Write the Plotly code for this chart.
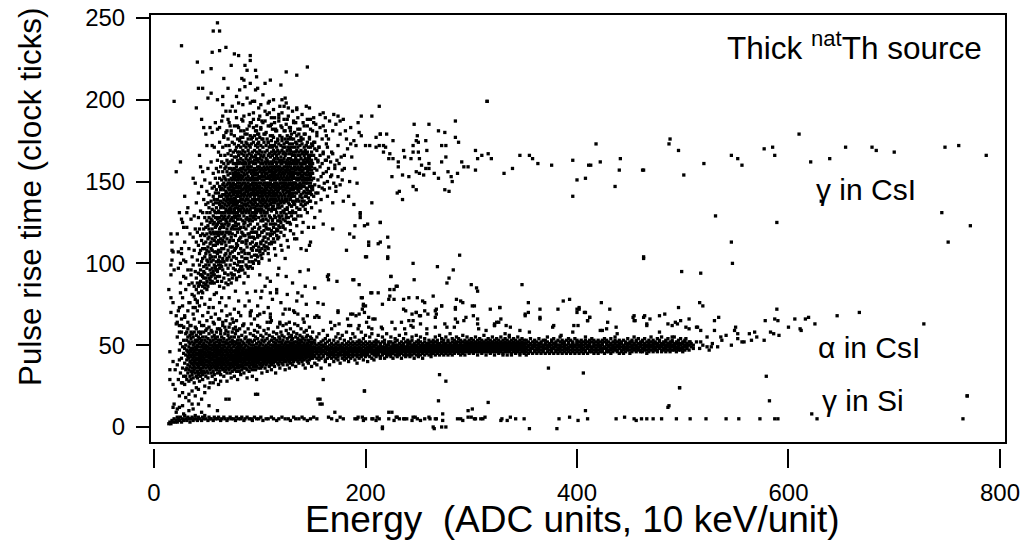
import plotly.graph_objects as go

# Energy (ADC units) vs pulse rise time (clock ticks).
# Column lists: [x, y1, y2, ...] = all points seen at ADC value x.

gamma_cols = [
 [22,64,118],[23,97],[24,73,131],[25,88],[26,106,62],[27,79,125],[28,92],[29,68,113,141],
 [30,84,101],[31,122],[32,71,96,134],[33,87,109],[34,76,118],[35,93,62,127],[36,81,104],
 [37,99,116,73],[38,86,129,108],[39,78,95,121],[40,91,113,84,137],[41,102,76,119,88],
 [42,94,111,128,82,143],[43,87,106,99,121,74],[44,96,117,89,132,108],[45,83,101,124,93,114,147],
 [46,92,109,86,131,118,103],[47,98,121,88,112,139,95],[48,85,104,117,94,128,151,109],
 [49,91,113,99,136,122,87,106],[50,97,118,89,108,131,144,102,126],[51,93,110,123,86,137,101,115,158],
 [52,99,128,91,116,107,142,121,134],[53,88,105,119,96,131,112,149,103,125],
 [54,94,113,127,101,138,118,92,109,162],[55,97,121,108,133,89,115,146,126,104],
 [56,102,119,95,129,111,141,124,136,155],[57,93,107,125,114,132,99,147,118,139,171],
 [58,98,116,104,128,137,111,152,122,143,131],[59,101,123,96,134,113,145,119,128,158,107],
 [60,95,112,127,106,139,118,149,131,163,124,182],[61,99,117,108,132,125,143,114,156,137,102,168],
 [62,104,121,113,136,128,147,97,152,119,141,174],[63,107,126,115,138,101,131,145,122,159,134,166],
 [64,98,112,129,118,141,135,151,124,109,162,146,187],[65,103,119,127,137,114,148,131,156,142,123,171],
 [66,109,122,134,116,145,128,139,153,101,161,149,177],[67,105,117,131,124,142,136,158,113,147,129,166,152],
 [68,111,126,138,119,133,151,144,127,159,106,172,141,193],[69,102,121,132,115,148,139,125,156,143,163,135,181],
 [70,108,128,119,137,146,131,154,141,123,167,149,161,176],[71,113,124,136,142,129,151,118,158,145,133,172,139,186],
 [72,106,119,131,147,138,126,155,143,162,134,149,169,114],[73,116,127,139,133,152,145,121,158,141,166,137,179,148],
 [74,110,122,135,128,144,157,139,151,163,131,147,174,118,196],[75,114,126,138,142,131,149,155,136,161,145,168,123,153],
 [76,108,121,133,146,129,152,140,158,137,165,148,173,144,184],[77,117,125,139,134,148,156,131,143,161,151,169,128,137],
 [78,112,123,136,144,129,153,141,159,147,165,138,171,155,189],[79,119,131,127,142,137,151,146,163,134,157,168,149,176],
 [80,114,124,138,133,147,141,155,129,161,152,172,144,166,198],[81,121,129,135,149,143,157,138,162,146,153,175,132,168],
 [82,116,127,139,144,133,151,158,147,164,141,171,154,181,122],[83,119,131,137,148,142,156,135,161,152,167,145,174,158],
 [84,113,126,134,145,139,153,149,163,131,158,169,142,177,187],[85,122,129,141,136,151,146,159,155,143,166,133,172,161],
 [86,117,125,138,147,132,154,142,162,149,168,157,136,179,208],[87,121,131,144,139,152,148,161,135,157,171,164,145,127],
 [88,114,128,136,146,141,155,151,166,133,159,173,147,182],[89,123,132,139,149,144,158,137,163,153,169,142,176,127],
 [90,118,126,135,147,142,156,151,161,131,167,145,172,159,191],[91,124,133,141,138,152,148,164,157,129,171,146,178,162],
 [92,119,129,137,145,151,143,159,134,166,155,173,148,186],[93,126,131,142,139,153,149,162,157,136,168,145,177,121],
 [94,116,128,136,147,144,156,152,165,139,161,174,149,183],[95,122,134,141,138,151,146,158,163,131,169,155,178,143,199],
 [96,127,133,145,142,154,149,166,137,161,172,157,129],[97,119,131,139,148,143,157,152,164,135,168,176,146,184],
 [98,124,136,142,151,147,159,133,163,155,171,144,179],[99,128,132,146,139,153,149,167,158,141,174,162,121,188],
 [100,122,135,143,138,152,156,147,164,133,169,159,177,145],[101,126,131,141,149,144,157,161,153,137,172,166,182],
 [102,119,133,139,146,151,142,158,163,135,168,155,176,129],[103,127,136,144,148,153,141,161,157,171,138,165,186],
 [104,123,132,145,139,156,151,149,166,159,174,143,131],[105,129,137,142,153,147,162,158,135,168,155,179,144,193],
 [106,124,134,146,141,152,157,164,149,172,138,161,127],[107,131,139,143,155,148,163,159,136,169,152,176,145],
 [108,126,135,147,141,153,158,166,149,162,133,174,184],[109,133,138,144,152,156,148,161,171,142,167,157,129],
 [110,128,136,149,143,154,159,165,139,172,151,178,146],[111,132,141,145,153,157,162,148,168,137,175,156,189],
 [112,127,139,147,143,155,161,151,166,134,171,158,182],[113,135,142,148,156,152,163,159,144,169,138,177],
 [114,129,137,146,153,149,158,164,141,172,155,167,186],[115,133,143,151,147,156,162,139,168,159,174,145],
 [116,131,138,146,154,149,161,157,166,142,171,152,181],[117,136,141,148,157,153,164,159,144,169,176,134],
 [118,129,139,147,152,158,145,162,167,155,173,141,187],[119,134,143,149,156,151,163,146,168,159,178,138],
 [120,131,137,146,154,149,161,157,165,142,172,153],[121,135,141,152,147,158,163,155,169,139,175,161,192],
 [122,132,144,149,156,151,162,145,167,158,171,138],[123,137,142,153,147,159,164,155,173,149,168,181],
 [124,133,145,151,157,148,162,166,141,171,155,176],[125,138,143,149,156,161,152,167,159,146,174,185],
 [126,134,147,153,158,144,163,169,151,157,178,139],[127,141,146,152,159,155,164,148,171,161,137,176],
 [128,136,144,151,157,162,149,167,155,173,142,183],[129,139,148,153,159,164,145,169,156,177,161],
 [130,135,143,151,146,158,163,154,171,167,141,179],[131,142,147,155,152,161,166,149,173,158,138],
 [132,137,145,153,158,149,163,168,156,176,161,186],[133,141,149,155,146,162,159,171,152,166,143],
 [134,138,147,152,157,164,149,168,161,174,155],[135,143,151,146,158,163,155,169,161,178,139],
 [136,139,148,154,159,152,166,162,171,145,182],[137,144,151,157,147,163,158,168,155,175],
 [138,141,149,155,161,152,166,172,158,146],[139,146,153,159,148,164,157,169,177,142],
 [140,138,151,156,161,147,167,159,173,154],[141,143,149,157,153,163,168,151,176,161],
 [142,147,155,151,162,158,166,144,171],[143,141,152,158,149,164,161,169,155,179],
 [144,146,154,159,151,167,162,172,143],[145,149,156,152,163,158,168,145,174],
 [146,143,151,157,162,154,166,171,159],[147,147,155,161,152,164,158,176],
 [148,144,153,159,149,166,162,171],[149,151,157,146,163,155,168,173],
 [150,147,161,172,155],[151,152,166],[152,158,148,174],[153,143,164],[154,157,169],[155,151,162],
 [156,147,171],[157,159,166],[158,153],[159,161,146],[160,155,168],[161,149],[162,163],[163,156],
 [164,171,150],[165,158],[166,146],[167,162],[168,154],[169,167],[170,149],[171,158],[172,144],
 [173,163],[174,153],[175,161],[176,148],[178,157],[180,166],
]

# lower part of the gamma cluster
gamma_low_x = [76,78,80,81,83,84,86,87,89,90,92,93,94,96,97,98,100,101,102,104,105,107,108,110,111,113,114,116,117,119,
               120,122,123,125,126,128,129,131,132,134,135,137,139,141,143,145,147,149,151,153,155,158,161,164,
               79,85,91,95,103,106,112,118,124,130,88,82,99,109,115,121,127,133,140,146,152,157]
gamma_low_y = [104,110,101,115,107,118,103,112,106,116,109,101,119,111,105,117,108,113,103,116,110,121,106,118,112,124,109,120,115,126,
               111,122,117,128,114,125,120,131,118,127,123,133,129,125,136,131,138,134,141,137,143,139,145,141,
               121,124,127,129,126,131,133,136,139,141,98,96,100,102,105,108,110,115,119,122,128,132]

gamma_fill_x = [62,63,64,65,66,66,67,68,68,69,70,70,71,71,72,72,73,73,74,74,75,75,76,76,77,77,78,78,79,79,
                80,80,81,81,82,82,83,83,84,84,85,85,86,86,87,87,88,88,89,89,90,90,91,91,92,92,93,93,94,94,
                95,95,96,96,97,97,98,98,99,99,100,100,101,101,102,102,103,103,104,104,105,105,106,106,107,107,
                108,108,109,109,110,110,111,111,112,112,113,113,114,114,115,115,116,116,117,117,118,118,119,119,
                120,120,121,122,122,123,124,124,125,126,126,127,128,129,130,130,131,132,133,134,135,136,137,138,
                139,140,141,142,143,144,145,146,147,148,149,150,58,59,60,61,57,56]
gamma_fill_y = [92,99,89,96,101,91,94,99,88,103,93,97,90,104,99,110,94,102,91,107,97,104,93,100,109,96,91,103,99,111,
                95,106,101,92,109,98,104,113,96,101,108,117,94,106,99,114,103,110,97,118,106,101,112,98,104,116,108,113,100,110,
                105,115,102,119,108,112,104,116,110,101,107,117,112,105,119,109,114,106,111,120,108,116,113,122,110,118,
                115,109,121,112,117,124,113,120,118,126,115,122,119,113,124,128,117,121,126,120,123,116,128,122,
                125,119,129,123,127,131,126,121,130,125,133,128,131,124,129,135,132,127,136,131,134,129,138,133,
                136,140,135,138,133,141,137,140,143,138,142,145,91,96,89,101,88,93]

# upper part of the gamma cluster
gamma_up_x = [90,92,94,96,98,100,101,103,105,106,108,109,111,112,114,115,117,118,120,121,123,124,126,127,129,130,132,133,135,136,
              138,139,141,142,144,145,147,148,150,151,153,154,156,157,159,160,162,163,165,85,87,80,76,72,68,83,99,113,128,143,155,149,146,152]
gamma_up_y = [184,176,188,181,173,190,183,176,187,180,174,192,185,178,189,182,175,191,184,177,188,181,174,190,183,176,187,180,173,189,
              182,175,186,179,172,184,177,188,181,174,185,178,171,183,176,167,181,173,165,181,174,183,178,184,180,188,179,172,170,168,163,159,164,170]

gamma_top_x = [62,66,70,73,77,79,82,85,88,91,94,97,99,102,104,107,110,113,115,118,121,123,126,129,131,134,137,140,142,145,
               148,151,154,157,160,163,166,169,172,176,179,182,186,189,193,196,84,93,108,119,135,72,65,58,55,
               165,168,171,174,177,180,183,185,178,172,167,163,176,181,187,190,192,184,179]
gamma_top_y = [183,178,188,181,193,184,177,190,179,186,192,181,195,187,179,191,184,194,181,189,183,196,188,181,193,186,179,191,184,188,
               182,186,180,191,184,178,187,181,185,179,188,176,183,175,186,178,197,199,198,196,195,193,190,186,180,
               176,168,160,172,165,158,170,150,151,147,153,163,187,181,165,158,149,141,138]

# sparse halo above and left of the gamma cluster
halo_x = [60,56,62,26,68,62,55,76,80,91,91,41,46,54,73,86,88,96,125,145,135,66,83,85,97,105,110,120,91,42,46,54,65,70,81,96,98,
          78,88,103,109,113,121,124,125,19,40,51,60,65,91,95,101,127,135,144,147,151,160,162,170,174,45,47,49,53,55,50,43,25,21,37,39,44,46,
          16,17,18,17,16,19,16,23,26,25,28,14,16,18,16,21,26,31,28,17]
halo_y = [247,242,242,233,232,230,229,228,227,227,224,223,217,219,221,221,218,218,217,220,215,213,213,212,214,210,212,209,210,207,207,204,202,207,206,206,207,
          202,201,203,199,200,200,201,198,199,195,201,200,197,198,199,197,195,194,196,195,189,192,189,191,190,188,183,179,183,172,172,166,162,156,152,149,159,156,
          118,108,107,102,99,96,93,107,109,100,102,84,79,76,70,68,127,131,122,113]

# tail of the gamma cluster towards higher energy
tail_x = [196,206,213,315,285,246,260,269,275,285,191,186,194,200,204,210,213,214,217,219,220,226,222,223,226,231,231,225,230,232,235,
          235,237,236,241,245,245,248,248,251,250,243,245,248,249,250,251,253,257,258,260,260,255,257,265,269,272,272,276,276,279,275,
          278,281,282,287,288,291,293,297,304,304,306,310,316,319,339,331,346,355,358,363,376,396,400,408,411,413,418,436,440,441,462,
          396,422,217,210,214]
tail_y = [190,190,196,199,187,185,185,181,180,177,172,173,180,172,172,171,172,179,172,171,179,175,164,167,164,162,159,153,143,144,154,
          139,165,169,153,147,168,145,156,155,168,164,172,175,178,174,164,160,175,169,161,158,154,158,155,152,162,172,165,172,144,145,
          156,153,150,155,174,162,159,159,169,157,164,166,167,164,158,155,166,166,164,161,160,163,151,152,160,160,173,147,157,164,157,
          141,162,168,177,179]

# points between the gamma cluster and the alpha band
mid_x = [146,165,165,188,200,214,221,224,230,182,185,203,214,222,195,202,189,169,169,160,151,148,144,139,135,147,124,117,107,102,
         110,116,136,152,164,173,144,155,160,174,186,198,196,205,216,223,227,136,132,124,152,110,91,98,111,119,125,141,167,175,184,
         194,203,216,203,289,268,283,245,246,279,277,300,305,306,348,463,221,224,229,223,227,222,212,206,197,189,194,201,214,190,199,
         221,212,203,189,195,195,206,236,241,249,256,264,272,286,285,292,295,303,306,306,318,327,322,326,351,354,365,365,377,382,387,
         393,400,402,408,412,410,401,423,431,429,424,454,454,464,466,197,199,207,209,188,236,244,248,251,241,243,266,266,277,285,284,
         322,31,34,36,38,40,41,43,44,46,47,48,49,50,51,52,53,54,55,56,57,58,59,60,61,62,63,64,65,66,67,68,69,70,71,72,73,74,75,76,77,
         78,79,80,82,84,86,38,42,45,47,50,52,55,57,60,62,64,67,70,33,36,39,29,27,25,30,35,44,58,53,49,46,41,37,32,28,24,26,23,21,74,78,
         81,85,88,90,92,95,98,101,105,108,112,104,96,89,83,93,100,110,116,120,126,131,125,118,138,143,128,135,140]
mid_y = [96,93,90,90,104,125,103,92,86,108,118,113,113,110,131,124,136,137,121,124,122,113,108,109,115,111,103,93,91,83,
         82,82,82,85,92,89,75,76,75,71,69,74,79,82,75,80,78,69,71,72,67,69,70,68,65,64,63,66,64,63,62,
         62,61,60,67,105,98,96,100,90,91,88,87,85,83,87,103,104,92,86,84,84,78,82,82,79,90,87,104,125,123,123,
         116,112,111,116,130,128,137,78,79,79,76,80,74,78,72,76,67,74,66,63,72,73,62,64,69,76,72,67,61,72,77,
         78,72,73,70,67,65,62,76,72,64,59,68,65,68,63,72,70,66,66,69,72,69,70,68,65,62,67,71,61,66,61,
         62,58,62,57,66,60,71,64,58,68,62,75,59,65,70,61,78,67,58,73,63,69,82,60,66,76,59,71,64,85,61,74,68,58,79,63,88,66,60,72,83,
         65,59,77,68,62,74,80,86,79,91,84,73,88,81,92,86,79,94,87,76,88,73,67,74,82,91,96,93,97,90,87,82,77,69,64,61,58,66,71,63,93,90,
         96,88,82,77,71,66,74,79,86,73,78,70,83,92,98,97,93,89,84,76,81,88,92,97,95,86,72,77,80]

# alpha-in-CsI band
alpha_cols = [
 [22,38,55],[23,29],[24,47,62],[25,33,51],[26,42,27,58],[27,36,49],[28,45,31,61,53],[29,39,48,26],[30,44,35,57,50],
 [31,41,29,53,47,36],[32,38,46,55,33,43,60],[33,42,35,49,28,52,45],[34,37,44,51,31,47,56,40],[35,43,34,48,39,54,29,46,58],
 [36,36,41,47,52,32,44,57,39],[37,45,38,50,34,42,55,30,48],[38,40,46,35,51,43,58,37,27],[39,44,33,49,39,53,41,47,61],
 [40,36,42,48,31,45,52,39,56,24],[41,41,34,47,53,38,44,50,30],[42,37,45,32,49,42,55,39,58],[43,43,36,51,46,33,40,54,28],
 [44,39,47,35,42,52,45,31,57],[45,44,38,49,34,41,53,47,62],[46,36,43,50,40,46,32,55,29],[47,42,48,37,45,51,34,39,58],
 [48,38,44,33,49,41,53,46,25],[49,45,40,36,50,43,31,55,48],[50,41,47,34,44,52,38,49,60],[51,37,43,49,40,46,33,54,30],
 [52,44,39,51,36,42,48,57,45],[53,40,46,35,43,50,38,53,27],[54,42,37,48,45,33,52,41,59],[55,39,44,50,36,47,42,55,31],
 [56,45,41,34,49,38,53,43,64],[57,37,43,48,40,46,32,51,56],[58,41,47,36,44,50,39,54,29],[59,43,38,49,35,45,52,41,58],
 [60,40,46,33,42,48,37,55,44],[61,44,39,50,36,47,41,53,26],[62,38,45,42,49,34,51,46,60],[63,42,36,47,40,53,44,32,57],
 [64,39,46,43,50,37,48,41,55],[65,45,40,35,48,42,52,38,62],[66,41,47,44,36,50,39,54,31],[67,38,43,49,41,46,34,52,57],
 [68,44,40,47,37,51,42,35,59],[69,42,48,39,45,33,53,46,28],[70,40,45,36,49,43,51,38,56],[71,43,38,47,41,54,35,49,61],
 [72,39,46,42,50,37,44,52,33],[73,45,41,48,36,43,55,39,30],[74,41,44,38,51,47,34,53,58],[75,37,43,49,40,46,52,42,64],
 [76,44,39,46,35,50,42,55,31],[77,40,47,43,38,52,45,36,57],[78,42,38,48,44,34,51,46,59],[79,39,45,41,49,37,53,43,29],
 [80,43,47,36,42,50,40,55,46],[81,41,38,45,51,44,34,48,60],[82,45,40,43,37,49,53,42,32],[83,38,44,47,41,35,50,46,56],
 [84,42,46,39,52,44,37,48,62],[85,44,41,48,36,45,51,40,33],[86,40,46,43,49,38,54,42,58],[87,43,39,45,41,50,36,47,55],
 [88,45,42,38,47,44,52,35,30],[89,41,47,43,39,49,45,53,60],[90,44,40,46,37,42,51,48,34],[91,42,45,39,48,44,36,53,57],
 [92,46,41,43,50,38,47,44,63],[93,40,44,48,42,35,52,46,31],[94,43,47,41,45,39,50,37,56],[95,45,42,48,40,44,53,38,59],
 [96,41,46,43,38,49,45,35,55],[97,44,40,47,42,51,46,37,29],[98,46,43,39,48,44,41,54,58],[99,42,45,49,40,47,36,52,44],
 [100,44,41,46,43,38,50,48,61],[101,47,42,45,39,51,44,36,56],[102,43,46,41,48,45,37,53,33],[103,45,40,47,43,50,42,55,38],
 [104,42,48,44,46,39,52,41,59],[105,46,43,40,49,45,36,53,47],[106,44,47,42,38,50,45,41,57],[107,41,45,48,43,46,39,54,34],
 [108,47,44,42,49,40,51,45,60],[109,43,46,45,41,48,37,52,56],[110,45,42,47,44,50,40,39,64],[111,46,43,41,48,45,53,38,35],
 [112,44,47,42,46,50,40,55,43],[113,42,45,49,43,47,39,52,58],[114,47,44,46,41,50,45,37,54],[115,43,48,45,42,46,51,40,33],
 [116,46,44,41,49,47,43,53,57],[117,45,42,48,44,39,50,46,61],[118,43,47,45,41,49,52,38,55],[119,48,44,46,42,50,40,54,36],
 [120,45,43,47,49,41,46,52,58],[121,44,48,42,46,51,39,47,56],[122,46,43,49,45,41,53,38,62],[123,47,44,42,50,46,48,40,55],
 [124,43,46,48,44,51,41,45,35],[125,45,49,43,47,40,52,46,59],[126,48,44,46,42,50,45,54,38],[127,44,47,45,49,41,43,52,57],
 [128,46,43,50,45,48,40,55,36],[129,45,48,42,47,44,51,39,60],[130,47,44,49,46,42,53,45,56],[131,43,46,48,45,50,41,54,38],
 [132,48,45,47,43,51,46,40,58],[133,46,49,44,47,42,52,45,63],[134,45,47,43,50,48,41,55,37],[135,48,44,46,49,45,52,42,57],
 [136,46,43,48,45,51,40,47,54],[137,44,47,49,46,42,50,53,39],[138,47,45,48,43,51,46,56,41],[139,45,48,44,50,47,42,53,60],
 [140,46,49,45,43,48,52,40,55],[141,48,44,47,50,45,42,54,38],[142,45,47,49,44,51,46,41,58],[143,47,46,43,49,45,53,48,36],
 [144,44,48,46,50,42,47,55,59],[145,46,49,45,48,43,51,40,56],[146,48,45,47,44,50,46,53,39],[147,45,47,49,43,48,52,41,61],
 [148,47,44,46,50,45,49,42,55],[149,46,48,44,47,51,43,54,37],[150,48,45,47,49,46,42,52,58],
 [152,46,49,44,48,51,43,53,39],[154,47,45,50,42,48,46,55,38],[156,48,44,46,51,43,49,41,57],[158,45,47,50,48,42,52,46,36],
 [160,46,49,44,47,53,43,50,59],[162,48,45,51,46,41,49,54,40],[164,47,44,49,45,52,48,42,56],[166,45,48,46,50,43,47,53,38],
 [168,49,46,44,48,51,42,45,60],[170,47,45,50,43,48,53,46,40],[172,46,49,47,44,51,42,55,48],[174,48,45,43,50,47,52,41,57],
 [176,46,48,50,44,49,45,54,39],[178,47,44,49,46,42,51,48,56],[180,45,48,46,50,43,53,47,41],[182,49,46,44,48,51,45,42,58],
 [184,47,50,45,43,48,52,46,40],[186,46,48,51,44,47,49,54,42],[188,48,45,47,50,43,46,52,57],[190,47,49,44,46,51,48,41,55],
 [192,45,48,50,47,43,52,46,39],[194,49,46,48,44,51,47,53,42],[196,47,45,50,48,46,43,52,58],[198,46,49,47,44,51,45,54,41],
 [200,48,46,50,47,43,52,45,56],[202,47,49,45,48,51,44,46,40],[204,46,48,50,47,43,52,49,55],[206,49,45,47,51,46,48,42,57],
 [208,47,50,46,44,49,52,45,41],[210,48,46,51,47,43,50,53,45],[212,46,49,47,45,52,48,44,56],[214,48,47,50,46,43,51,49,42],
 [216,47,45,49,48,52,46,44,55],[218,49,47,46,51,45,48,53,42],[220,47,50,48,45,49,46,43,57],[222,46,48,51,47,44,50,52,45],
 [224,48,46,49,47,52,45,43,55],[226,47,50,45,48,46,51,49,42],[228,49,47,48,46,44,52,50,54],[230,46,48,50,47,45,49,53,43],
 [232,48,47,45,51,49,46,44,56],[234,47,49,46,48,52,45,50,42],[236,48,46,50,47,44,51,49,54],[238,47,49,48,45,52,46,43,57],
 [240,49,47,46,50,48,44,51,53],[242,48,46,49,47,51,45,52,43],[244,47,50,48,46,44,49,53,55],[246,49,47,46,51,48,45,50,42],
 [248,48,46,50,47,49,52,44,56],[250,47,49,48,45,51,46,53,43],[252,48,47,50,46,49,44,52,55],[254,49,46,48,51,47,45,50,42],
 [256,47,50,49,46,48,52,44,54],[258,48,47,46,50,49,45,51,57],[260,49,48,47,51,46,50,44,53],[262,47,49,50,46,48,52,45,43],
 [264,48,46,49,51,47,50,53,45],[266,49,47,48,46,52,50,44,55],[268,48,50,47,49,45,51,46,53],[270,47,49,51,48,46,50,44,56],
 [272,49,48,47,50,52,46,45,54],[274,48,50,49,46,47,51,53,44],[276,47,49,48,51,46,50,45,55],[278,49,47,50,48,52,46,44,53],
 [280,48,50,47,49,51,45,46,57],[282,49,48,46,50,47,52,54,44],[284,48,47,50,49,51,46,45,53],[286,49,51,48,47,50,46,52,55],
 [288,48,50,49,46,47,52,45,54],[290,50,48,47,49,51,46,53,44],[292,49,47,50,48,52,46,45,56],[294,48,50,49,51,47,46,53,44],
 [296,49,48,50,47,52,46,51,55],[298,50,49,47,48,51,46,53,45],[300,48,50,49,52,47,46,51,54],[302,49,48,51,50,47,53,46,45],
 [304,50,49,48,47,52,46,51,55],[306,49,51,48,50,47,53,46,44],[308,48,50,49,52,47,51,46,54],[310,50,49,48,51,47,53,46,45],
 [312,49,48,50,52,47,51,46,56],[314,50,49,48,51,47,46,53,44],[316,49,51,50,48,52,47,46,54],[318,48,50,49,51,47,53,46,45],
 [320,50,49,48,52,47,51,46,55],[322,49,51,50,48,47,53,46,44],[324,50,48,49,52,47,51,46,54],[326,49,50,48,51,47,53,46,45],
 [328,48,50,49,52,47,51,46,55],[330,50,49,48,51,47,53,45,44],[332,49,51,50,48,52,47,46,54],[334,50,48,49,51,47,53,46,44],
 [336,49,50,48,52,47,51,46,55],[338,50,49,48,51,47,53,45,44],[340,49,51,50,48,52,47,46,54],[342,50,48,49,51,47,53,46,45],
 [344,49,50,48,52,47,51,46,55],[346,50,49,48,51,47,53,45,44],[348,49,51,50,48,52,47,46,54],[350,50,48,49,51,47,53,46,45],
 [352,49,46,51,48,53,44],[354,50,47,52,45,49],[356,48,51,46,50,54,47],[358,49,45,52,48,50],[360,47,50,53,46,49,51],
 [362,48,52,45,50,47],[364,50,46,49,54,48,51],[366,47,51,49,45,52],[368,49,53,47,50,46,48],[370,51,48,45,50,53],
 [372,46,49,52,48,50,55],[374,50,47,51,45,49],[376,48,52,46,50,53,47],[378,49,45,51,48,54],[380,47,50,52,46,49,51],
 [382,50,48,45,53,47],[384,49,52,46,50,48,55],[386,47,51,49,45,53],[388,50,48,52,46,49,51],[390,48,45,50,53,47],
 [392,51,49,46,52,48,54],[394,47,50,53,45,49],[396,49,52,48,46,51,50],[398,50,47,54,49,45],[400,48,51,46,52,50,53],
 [402,49,47,50,45,52],[404,51,48,53,46,49,50],[406,47,50,45,52,48],[408,49,53,47,51,46,55],[410,50,48,52,45,49],
 [412,47,51,49,53,46,50],[414,49,46,52,48,54],[416,50,47,51,45,49,53],[418,48,52,46,50,47],[420,51,49,53,47,45,50],
 [422,48,46,50,52,49],[424,50,53,47,51,48,46],[426,49,45,52,48,54],[428,47,50,48,53,51,46],[430,50,52,46,49,47],
 [432,48,51,54,47,50,45],[434,49,46,52,50,48],[436,51,48,47,53,49,55],[438,50,46,49,52,47],[440,48,51,45,50,53,49],
 [442,47,52,49,46,51],[444,50,48,53,47,49,45],[446,49,51,46,52,48],[448,48,50,54,47,51,49],[450,51,47,49,45,52],
 [452,49,52,48,50,46,53],[454,50,47,51,48,55],[456,48,53,46,50,49,52],[458,51,49,47,54,48],[460,49,46,52,50,47,51],
 [462,50,53,48,46,52],[464,48,51,49,54,47,50],[466,52,47,50,45,49],[468,49,53,51,48,46,50],[470,50,47,52,49,55],
 [472,48,51,46,53,50,49],[474,51,49,47,52,48],[476,49,54,50,46,51,47],[478,50,48,52,49,53],[480,47,51,49,55,50,46],
 [482,52,48,50,47,51],[484,49,53,46,50,48,52],[486,51,47,49,54,50],[488,48,52,50,46,51,49],[490,50,47,53,49,52],
 [492,49,51,48,55,47,50],[494,52,49,46,51,48],[496,50,53,48,47,51,49],[498,48,51,50,54,47],[500,51,49,52,48,46],
 [502,49,52,47,50,53],[504,50,48,51,49],[506,52,47,50],[508,49,51],[510,50,48],
]

# points around the alpha band (above, below and beyond its end)
edge_x = [513,516,519,523,525,528,533,537,541,546,552,558,563,570,577,583,591,600,612,625,
          154,156,174,183,191,194,198,200,171,186,193,201,206,215,225,234,228,237,245,238,248,252,256,259,267,272,254,245,252,258,
          266,267,275,285,287,293,290,301,302,307,314,322,324,327,328,333,336,
          351,354,365,378,397,400,402,407,412,410,453,455,463,466,486,493,498,506,514,376,385,396,337,332,346,355,422,428,437,438,478,
          490,503,507,517,72,80,91,100,110,122,133,145,85,98,107,119,128,136,142,77,68,62,
          516,519,496,534,530,589,587,590,578,606,611,616,619,646,667,728,586,568,565,556,552,549,550,536,523,527,530,517,513,506,503,
          495,490,483,478,469,
          20,24,27,30,33,36,39,42,45,36,27,22,48,52,42,33,18,68,56,63,98,15,18,15,18,15,20,24,27,30,
          96,71,160,199,157,159,216,155,157,199,270,276,269,316,301,297,273,225,171,264,272,276,373,406,408,222,497,486,579,497,487,622,769,582]
edge_y = [52,48,50,55,47,51,49,53,56,50,54,52,57,55,53,58,56,61,59,63,
          68,67,70,66,68,69,75,74,62,62,60,64,60,61,64,64,60,60,61,71,70,68,71,69,72,74,77,65,63,60,
          61,69,63,73,64,65,77,74,68,60,59,63,64,73,66,62,56,
          68,70,66,62,62,70,72,70,67,65,67,65,67,62,63,64,65,66,61,53,56,58,61,57,59,58,59,60,61,57,58,
          55,54,52,52,69,70,68,69,67,69,70,68,63,62,64,63,64,62,64,61,65,66,
          76,74,73,67,65,72,66,65,65,66,60,66,67,68,70,63,57,58,53,52,57,59,61,55,49,49,59,59,61,60,61,
          63,62,69,68,66,
          23,19,21,18,20,22,19,23,17,14,13,11,21,24,14,16,12,17,27,28,20,29,26,35,40,46,35,41,27,31,
          20,17,29,22,17,14,0,17,14,22,32,28,16,15,11,10,8,9,9,0,0,0,36,33,10,9,24,12,31,24,13,8,19,16]

# gamma-in-Si line
si_x = [14,15,16,17,18,19,20,21,22,22,23,24,25,26,27,28,29,30,31,32,33,34,35,36,37,38,39,40,41,42,43,45,46,47,48,49,51,52,53,54,
        56,57,58,60,61,63,64,66,67,69,70,72,73,75,77,78,80,82,83,85,86,88,90,92,93,95,97,99,101,103,106,108,111,113,116,118,121,
        124,127,129,132,134,137,140,142,145,148,151,21,24,28,33,19,37,45,52,60,
        154,165,168,173,176,179,190,193,198,200,206,211,213,227,230,236,239,245,249,252,256,260,267,287,292,297,304,309,313,329,334,
        192,197,207,210,222,229,232,237,244,247,261,266,273,290,300,303,311,328,337,342,350,383,393,401,410,437,445,454,456,461,
        216,265,355,381,466,472,480,507,541,573,587,494,522,553,590,627,769,765]
si_y = [2,3,2,4,3,5,3,4,6,3,5,4,6,3,5,4,7,5,4,6,5,3,5,6,4,5,7,5,4,6,5,4,6,5,7,5,4,6,5,5,
        4,6,5,5,6,4,5,6,5,4,5,6,5,5,4,6,5,5,6,4,5,6,5,5,4,6,5,5,6,4,5,5,6,5,4,5,6,
        5,5,4,6,5,5,6,5,4,5,6,9,12,8,10,14,11,9,13,10,
        5,6,5,4,6,5,5,6,4,5,5,6,5,4,6,5,5,6,5,4,5,6,5,5,4,6,5,5,6,5,4,
        5,6,5,4,5,6,5,5,4,6,5,5,4,5,6,5,5,4,6,5,5,5,6,4,5,5,6,5,4,5,
        -1,-1,-1,-1,5,5,5,5,5,5,5,5,5,5,5,5,19,5]

# right-hand sparse points (gamma in CsI at high energy)
far_x = [315,463,488,487,496,501,520,546,552,556,577,585,587,610,621,639,654,679,683,700,748,761,787,
         531,589,546,547,499,517,631,745,772,751,463]
far_y = [199,157,176,173,169,154,161,166,164,160,170,171,166,179,162,164,171,171,169,168,171,172,166,
         129,125,113,100,95,94,138,131,123,113,104]

x_ticks = [0, 200, 400, 600, 800]
y_ticks = [0, 50, 100, 150, 200, 250]


def flatten(cols):
    xs, ys = [], []
    for c in cols:
        for v in c[1:]:
            xs.append(c[0])
            ys.append(v)
    return xs, ys


gx, gy = flatten(gamma_cols)
ax, ay = flatten(alpha_cols)
all_x = gx + ax + gamma_low_x + gamma_fill_x + gamma_up_x + gamma_top_x + halo_x + tail_x + mid_x + edge_x + si_x + far_x
all_y = gy + ay + gamma_low_y + gamma_fill_y + gamma_up_y + gamma_top_y + halo_y + tail_y + mid_y + edge_y + si_y + far_y

FONT = "Liberation Sans, Arial, Helvetica, sans-serif"

fig = go.Figure()
fig.add_trace(go.Scatter(
    x=all_x, y=all_y, mode="markers",
    marker=dict(symbol="square", size=3.3, color="black", line=dict(width=0)),
    hoverinfo="skip", showlegend=False,
))

W, H = 1020, 544
L, R, T, B = 150, 14, 14, 96
pw, ph = W - L - R, H - T - B


def px(page_x):
    return (page_x - L) / pw


def py(page_y):
    return (H - B - page_y) / ph


fig.update_layout(
    width=W, height=H,
    margin=dict(l=L, r=R, t=T, b=B, autoexpand=False),
    paper_bgcolor="white", plot_bgcolor="white",
    font=dict(family=FONT, color="black"),
    xaxis=dict(range=[-3.8, 805.7], tickvals=x_ticks, ticks="outside", ticklen=19, tickwidth=2,
               tickcolor="black", showgrid=False, zeroline=False, showline=False, automargin=False,
               tickfont=dict(size=24, family=FONT), ticklabelstandoff=4, ticklabeloverflow="allow"),
    yaxis=dict(range=[-12.84, 252.4], tickvals=y_ticks, ticks="outside", ticklen=13, tickwidth=2,
               tickcolor="black", showgrid=False, zeroline=False, showline=False, automargin=False,
               tickfont=dict(size=24, family=FONT), ticklabelstandoff=6, ticklabeloverflow="allow"),
    shapes=[dict(type="rect", xref="paper", yref="paper", x0=0, x1=1, y0=py(443), y1=1,
                 line=dict(color="black", width=2), fillcolor="rgba(0,0,0,0)", layer="above")],
    annotations=[
        dict(text="Pulse rise time (clock ticks)", xref="paper", yref="paper", x=px(30), y=py(197),
             textangle=-90, showarrow=False, xanchor="center", yanchor="middle", font=dict(size=31.4)),
        dict(text="Energy  (ADC units, 10 keV/unit)", xref="paper", yref="paper", x=px(572), y=py(519),
             showarrow=False, xanchor="center", yanchor="middle", font=dict(size=37)),
        dict(text="Thick <sup>nat</sup>Th source", xref="paper", yref="paper", x=px(984), y=py(46),
             showarrow=False, xanchor="right", yanchor="middle", font=dict(size=31.5)),
        dict(text="γ in CsI", xref="paper", yref="paper", x=px(814), y=py(189),
             showarrow=False, xanchor="left", yanchor="middle", font=dict(size=30)),
        dict(text="α in CsI", xref="paper", yref="paper", x=px(816), y=py(347),
             showarrow=False, xanchor="left", yanchor="middle", font=dict(size=30)),
        dict(text="γ in Si", xref="paper", yref="paper", x=px(820), y=py(400),
             showarrow=False, xanchor="left", yanchor="middle", font=dict(size=30)),
    ],
)

# the figure is sized to the whole window, so drop the page's default 8px body margin
fig.write_html("out.html", config={"displayModeBar": False, "staticPlot": True},
               post_script="document.body.style.margin='0';")
